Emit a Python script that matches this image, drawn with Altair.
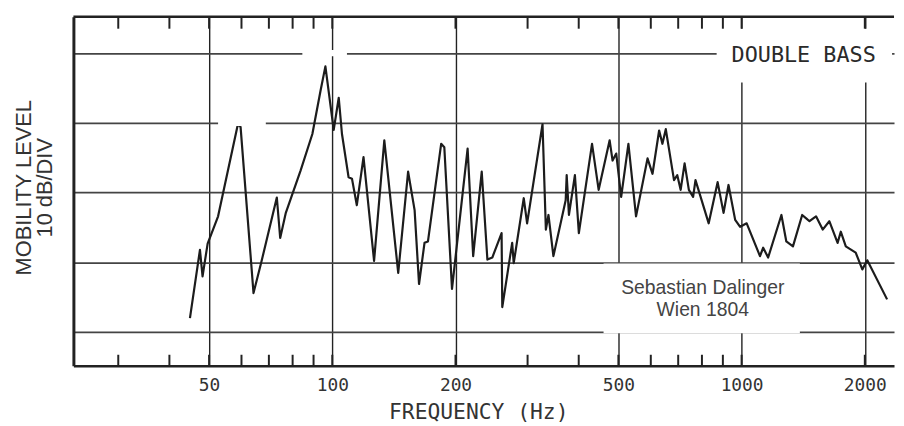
import altair as alt
import pandas as pd

# ---- curve (frequency in Hz, mobility level in dB) ----
freq = [44.9, 47.5, 48.2, 49.6, 52.6, 58.8, 59.7, 64.2, 67.0, 73.2,
        74.6, 77.0, 83.7, 89.4, 93.6, 96.2, 100.8, 103.7, 105.6, 109.6,
        111.7, 114.8, 119.2, 126.5, 134.0, 144.9, 153.2, 158.9, 162.9, 168.0,
        171.3, 184.5, 187.8, 196.1, 214.1, 220.9, 231.8, 239.3, 246.0, 259.2,
        260.2, 275.1, 277.5, 293.6, 299.2, 326.3, 332.5, 337.4, 346.9, 371.7,
        373.8, 378.6, 391.5, 400.3, 431.1, 447.5, 476.0, 483.9, 494.0, 507.9,
        529.0, 552.2, 589.1, 605.8, 628.8, 640.5, 652.8, 683.7, 696.4, 709.7,
        725.7, 743.3, 761.3, 771.5, 831.0, 873.8, 903.5, 929.0, 964.5, 991.8,
        1029, 1109, 1129, 1161, 1251, 1286, 1335, 1406, 1438, 1465,
        1520, 1578, 1638, 1716, 1747, 1797, 1900, 1972, 2028, 2267]
level = [2.0, 11.8, 8.0, 12.7, 16.6, 29.8, 29.4, 5.6, 9.9, 19.3,
         13.5, 17.1, 23.2, 28.4, 34.6, 38.1, 29.0, 33.6, 28.4, 22.2,
         22.0, 18.2, 25.1, 10.2, 27.5, 8.5, 23.0, 17.5, 6.9, 12.8,
         13.0, 27.0, 26.5, 6.2, 26.3, 10.9, 23.0, 10.4, 10.7, 14.2,
         3.6, 12.8, 9.9, 19.2, 15.6, 29.8, 14.7, 16.8, 10.9, 18.9,
         22.5, 16.8, 22.5, 14.2, 27.0, 20.4, 27.5, 24.6, 25.6, 19.4,
         27.0, 16.6, 24.9, 22.7, 28.9, 27.0, 29.1, 21.8, 22.5, 20.4,
         24.2, 20.4, 19.4, 21.8, 15.6, 21.5, 17.1, 21.1, 16.1, 15.1,
         15.6, 10.9, 12.1, 10.7, 16.8, 13.0, 12.3, 16.8, 16.3, 15.9,
         16.6, 14.7, 15.9, 12.8, 14.4, 12.3, 11.4, 9.0, 10.3, 4.7]

# ---- axes ----
major_ticks = [50, 100, 200, 500, 1000, 2000]
minor_ticks = [30, 40, 60, 70, 80, 90, 300, 400, 600, 700, 800, 900]
grid_levels = [0, 10, 20, 30, 40]

# ---- annotations ----
title_text = "DOUBLE BASS"
title_freq = [944.8]
title_level = [39.7]
maker_lines = ["Sebastian Dalinger", "Wien 1804"]
maker_freq = [803.8, 803.8]
maker_level = [5.44, 2.36]

# white masks where the drawn grid is interrupted (label backgrounds, pen gaps)
mask_f1 = [869, 460, 84.5, 52.6]
mask_f2 = [2331, 1388, 108.6, 68.8]
mask_l1 = [35.8, -0.15, 39.55, 29.55]
mask_l2 = [43.5, 9.84, 40.45, 30.45]

W, H = 828, 352
xscale = alt.Scale(type="log", domain=[23.31, 2357], nice=False)
yscale = alt.Scale(domain=[-4.8, 45.2], nice=False, zero=False)

curve_df = pd.DataFrame({"freq": freq, "level": level})
ticks_df = pd.DataFrame({"freq": major_ticks + minor_ticks})
mask_df = pd.DataFrame({"freq": mask_f1, "freq2": mask_f2, "level": mask_l1, "level2": mask_l2})
title_df = pd.DataFrame({"freq": title_freq, "level": title_level, "t": [title_text]})
maker_df = pd.DataFrame({"freq": maker_freq, "level": maker_level, "t": maker_lines})
one_df = pd.DataFrame({"a": [0]})

masks = alt.Chart(mask_df).mark_rect(color="white").encode(
    x=alt.X("freq:Q", scale=xscale),
    x2="freq2:Q",
    y=alt.Y("level:Q", scale=yscale),
    y2="level2:Q",
)

ticks_bottom = alt.Chart(ticks_df).mark_rule(color="#222", strokeWidth=2).encode(
    x=alt.X("freq:Q", scale=xscale),
    y=alt.value(H - 11),
    y2=alt.value(H),
)
ticks_top = alt.Chart(ticks_df).mark_rule(color="#222", strokeWidth=2).encode(
    x=alt.X("freq:Q", scale=xscale),
    y=alt.value(0),
    y2=alt.value(12),
)
top_border = alt.Chart(one_df).mark_rule(color="#222", strokeWidth=2.5).encode(
    x=alt.value(0), x2=alt.value(W), y=alt.value(0)
)

curve = alt.Chart(curve_df).mark_line(
    color="#1c1c1c", strokeWidth=2.2, strokeJoin="round"
).encode(
    x=alt.X(
        "freq:Q", scale=xscale,
        axis=alt.Axis(
            values=major_ticks, format="d", ticks=False, tickSize=0,
            labelFont="DejaVu Sans Mono", labelFontSize=18, labelColor="#333",
            labelPadding=11, labelFlush=False, labelOverlap=False,
            grid=True, gridColor="#222", gridWidth=1.4,
            domainColor="#222", domainWidth=2.5,
            title="FREQUENCY (Hz)", titleFont="DejaVu Sans Mono",
            titleFontSize=21.5, titleFontWeight="normal", titleColor="#333",
            titleX=408.5, titleY=53, titleBaseline="alphabetic", titleAlign="center",
        ),
    ),
    y=alt.Y(
        "level:Q", scale=yscale,
        axis=alt.Axis(
            values=grid_levels, labels=False, ticks=False, tickSize=0,
            grid=True, gridColor="#444", gridWidth=1.8,
            domainColor="#222", domainWidth=3,
            title=["MOBILITY LEVEL", "10 dB/DIV"], titleFont="Liberation Sans",
            titleFontSize=22, titleFontWeight="normal", titleColor="#333",
            titleAngle=270, titleAlign="center", titleBaseline="middle",
            titleX=-50, titleY=172, titleLineHeight=21,
        ),
    ),
)

title_label = alt.Chart(title_df).mark_text(
    font="DejaVu Sans Mono", fontSize=22, color="#2a2a2a", align="left", baseline="middle"
).encode(
    x=alt.X("freq:Q", scale=xscale),
    y=alt.Y("level:Q", scale=yscale),
    text="t:N",
)

maker_label = alt.Chart(maker_df).mark_text(
    font="Liberation Sans", fontSize=19.5, color="#444", align="center", baseline="alphabetic"
).encode(
    x=alt.X("freq:Q", scale=xscale),
    y=alt.Y("level:Q", scale=yscale),
    text="t:N",
)

chart = alt.layer(
    curve, masks, ticks_bottom, ticks_top, top_border, title_label, maker_label
).properties(
    width=W, height=H,
    autosize=alt.AutoSizeParams(type="none"),
    padding={"left": 66, "top": 7, "right": 2, "bottom": 59},
    background="white",
).configure_view(stroke=None)

chart.save("out.html", embed_options={"renderer": "svg", "actions": False})
